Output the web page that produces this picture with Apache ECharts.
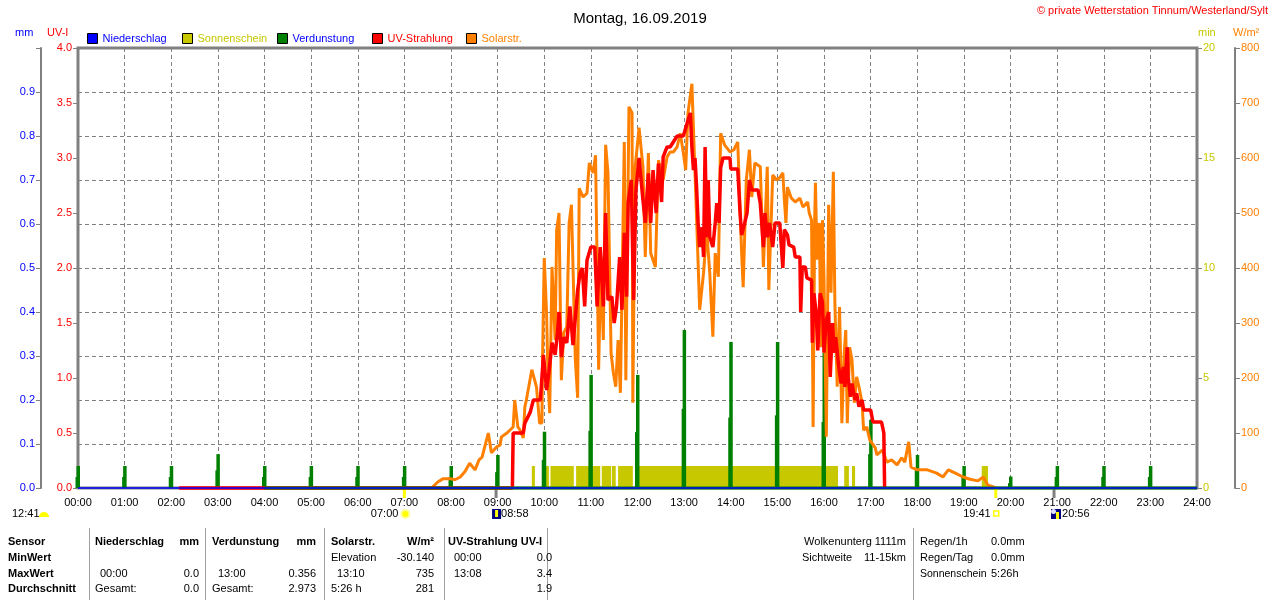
<!DOCTYPE html>
<html>
<head>
<meta charset="utf-8">
<script src="https://cdn.jsdelivr.net/npm/echarts@6/dist/echarts.min.js"></script>
<style>
html, body { margin: 0; padding: 0; background: #fff; }
#chart { width: 1280px; height: 600px; }
</style>
</head>
<body>
<div id="chart"></div>
<script>
var FONT = "Liberation Sans, Arial, sans-serif";

// Zeit in Minuten seit 00:00
var solarData = [
  [455,0],[463,11],[470,17],[479,17],[485,15],[492,20],[498,30],[504,45],[511,33],[516,51],
  [520,56],[528,100],[532,64],[539,75],[543,78],[545,93],[552,100],[554,102],[560,111],[562,160],
  [566,111],[569,105],[573,91],[575,147],[577,160],[584,215],[586,218],[590,184],[594,118],[597,118],
  [598,251],[600,418],[603,318],[605,191],[607,136],[610,402],[614,269],[616,469],[619,500],[622,196],
  [625,282],[629,293],[632,482],[635,515],[640,233],[643,164],[645,545],[650,529],[655,536],[658,591],
  [663,573],[666,605],[670,215],[673,420],[676,269],[679,624],[682,573],[686,245],[689,209],[692,184],
  [695,269],[698,173],[703,629],[705,196],[709,693],[713,682],[714,155],[717,584],[721,640],[722,655],
  [727,584],[730,420],[734,609],[737,427],[743,402],[747,596],[753,560],[758,602],[762,611],[766,611],
  [771,620],[775,645],[779,609],[782,578],[785,682],[790,735],[794,573],[798,409],[800,324],[805,391],
  [809,469],[813,391],[817,275],[820,427],[824,384],[827,645],[832,624],[839,611],[844,615],[849,629],
  [854,427],[856,365],[860,560],[864,615],[867,529],[871,591],[878,584],[882,402],[887,584],[889,360],
  [894,569],[899,560],[903,564],[907,573],[909,524],[911,482],[913,547],[918,527],[923,520],[929,527],
  [933,511],[939,520],[941,500],[944,487],[946,111],[948,487],[949,555],[951,415],[954,482],[956,256],
  [958,487],[960,384],[963,93],[966,515],[969,355],[972,575],[974,336],[977,184],[980,329],[983,118],
  [986,245],[988,287],[990,118],[993,256],[996,233],[999,155],[1002,202],[1005,184],[1009,155],[1011,105],
  [1015,111],[1019,87],[1026,73],[1028,60],[1035,69],[1041,47],[1047,51],[1054,42],[1060,55],[1064,47],
  [1069,84],[1072,38],[1080,33],[1093,33],[1105,27],[1113,20],[1120,33],[1129,27],[1139,20],[1148,16],
  [1158,13],[1165,20],[1171,5],[1178,2],[1181,0]
];

var uvData = [
  [130,0],[559,0],[560,0.5],[573,0.5],[575,0.59],[577,0.6],[582,0.69],[586,0.8],[595,0.8],[599,1.21],
  [603,0.89],[606,1.05],[610,1.32],[614,1.21],[617,1.41],[619,1.6],[622,1.19],[625,1.37],[629,1.32],[633,1.65],
  [637,1.3],[643,1.8],[646,1.95],[649,2.0],[652,1.65],[655,2.07],[660,2.19],[665,2.19],[668,1.65],[672,2.19],
  [676,1.65],[679,2.5],[682,1.71],[687,1.74],[690,1.5],[693,1.65],[697,2.1],[700,1.62],[703,2.32],[706,1.74],
  [708,2.6],[712,2.8],[715,1.71],[718,2.71],[722,3.0],[727,2.62],[730,2.41],[734,2.86],[737,2.41],[740,2.89],
  [744,2.5],[747,2.95],[751,2.6],[753,3.01],[758,3.1],[762,3.1],[771,3.2],[779,3.2],[784,3.32],[788,3.41],
  [790,3.1],[792,2.89],[794,3.0],[796,2.74],[798,2.41],[800,2.19],[803,2.37],[805,2.1],[807,3.1],[809,2.28],
  [811,2.8],[813,2.28],[817,2.19],[820,2.41],[822,2.59],[825,2.41],[827,2.91],[830,3.0],[839,3.0],[840,2.9],
  [849,2.9],[852,2.5],[854,2.3],[858,2.41],[861,2.5],[864,2.8],[867,2.71],[875,2.71],[878,2.59],[882,2.19],
  [884,2.5],[887,2.28],[890,2.41],[894,2.19],[897,2.41],[903,2.41],[905,2.41],[907,2.0],[909,2.35],[913,2.3],
  [915,2.21],[921,2.19],[923,2.1],[929,2.1],[930,1.6],[932,2.01],[936,2.01],[938,1.91],[944,1.89],[945,1.32],
  [947,1.77],[950,1.59],[952,1.25],[955,1.77],[958,1.69],[960,1.23],[963,1.53],[966,1.6],[968,1.01],[971,1.5],
  [973,1.23],[975,1.37],[979,1.1],[982,0.95],[985,1.1],[987,0.92],[990,1.28],[991,1.01],[994,0.83],[996,0.95],
  [1000,0.8],[1002,0.86],[1005,0.74],[1009,0.8],[1011,0.71],[1020,0.71],[1023,0.6],[1034,0.6],[1037,0.5],[1038,0]
];

// Verdunstung je Stunde (mm): Spitze und vorheriger Wert
var verdunstungStunde = [0,1,2,3,4,5,6,7,8,9,10,11,12,13,14,15,16,17,18,19,20,21,22,23];
var verdunstungMax = [0.05,0.05,0.05,0.077,0.05,0.05,0.05,0.05,0.05,0.075,0.128,0.257,0.257,0.359,0.332,0.332,0.307,0.155,0.075,0.05,0.026,0.05,0.05,0.05];
var verdunstungVor = [0.025,0.025,0.025,0.04,0.025,0.025,0.025,0.025,0.025,0.036,0.064,0.13,0.127,0.18,0.16,0.165,0.15,0.077,0.04,0.026,0.011,0.025,0.025,0.025];
var verdunstungLinie = [[240,0],[1440,0]];

// Sonnenschein (min je Minute): Intervalle [von, bis, Wert]
var sonnenschein = [
  [584,588,1],[597,606,1],[608,638,1],[641,672,1],[674,686,1],[687,692,1],[695,714,1],
  [717,978,1],[986,992,1],[996,1000,1],[1163,1171,1]
];

var niederschlagStunde = [0,1,2,3,4,5,6,7,8,9,10,11,12,13,14,15,16,17,18,19,20,21,22,23,24];
var niederschlag = [0,0,0,0,0,0,0,0,0,0,0,0,0,0,0,0,0,0,0,0,0,0,0,0,0];

// Astro-Zeiten (Minuten)
var sonnenAuf = 420, sonnenUnter = 1181, mondAuf = 538, mondUnter = 1256;

function pad(n) { return (n < 10 ? "0" : "") + n; }
function hm(m) { return pad(Math.floor(m / 60)) + ":" + pad(m % 60); }

var dom = document.getElementById("chart");
var myChart = echarts.init(dom, null, { renderer: "canvas" });

var legendItems = [
  { name: "Niederschlag", left: 87, color: "#0000ff" },
  { name: "Sonnenschein", left: 182, color: "#c8c800" },
  { name: "Verdunstung", left: 277, color: "#0000ff" },
  { name: "UV-Strahlung", left: 372, color: "#ff0000" },
  { name: "Solarstr.", left: 466, color: "#ff8000" }
];

var option = {
  animation: false,
  backgroundColor: "#fff",
  textStyle: { fontFamily: FONT },
  title: {
    text: "Montag, 16.09.2019",
    left: "center",
    top: 6,
    textStyle: { fontSize: 15, fontWeight: "normal", color: "#000", fontFamily: FONT }
  },
  legend: legendItems.map(function (it) {
    return {
      data: [{ name: it.name, textStyle: { color: it.color } }],
      left: it.left,
      top: 33,
      padding: 0,
      icon: "rect",
      itemWidth: 10,
      itemHeight: 10,
      selectedMode: false,
      itemStyle: { borderColor: "#000", borderWidth: 1 },
      textStyle: { fontSize: 11, fontFamily: FONT }
    };
  }),
  grid: {
    left: 78, right: 83, top: 48, bottom: 112,
    show: true, borderColor: "#808080", borderWidth: 3
  },
  xAxis: {
    type: "value",
    min: 0, max: 1440, interval: 60,
    axisLine: { show: false },
    axisTick: { show: false },
    axisLabel: {
      color: "#000", fontSize: 11, fontFamily: FONT, margin: 9,
      formatter: function (v) { return pad(v / 60) + ":00"; }
    },
    splitLine: { show: true, lineStyle: { color: "#808080", type: [4, 3], width: 1 } }
  },
  yAxis: [
    {
      type: "value", position: "left", min: 0, max: 4, interval: 0.5,
      axisLine: { show: false },
      axisTick: { show: true, length: 5, lineStyle: { color: "#808080" } },
      axisLabel: { color: "#ff0000", fontSize: 11, fontFamily: FONT, margin: 6,
        formatter: function (v) { return v.toFixed(1); } },
      splitLine: { show: false }
    },
    {
      type: "value", position: "left", offset: 37, min: 0, max: 1, interval: 0.1,
      axisLine: { show: true, lineStyle: { color: "#808080", width: 2 } },
      axisTick: { show: true, length: 5, lineStyle: { color: "#808080" } },
      axisLabel: { color: "#0000ff", fontSize: 11, fontFamily: FONT, margin: 6,
        formatter: function (v) { return v >= 0.999 ? "" : v.toFixed(1); } },
      splitLine: { show: true, lineStyle: { color: "#808080", type: [4, 3], width: 1 } }
    },
    {
      type: "value", position: "right", min: 0, max: 20, interval: 5,
      axisLine: { show: false },
      axisTick: { show: true, length: 5, lineStyle: { color: "#808080" } },
      axisLabel: { color: "#c8c800", fontSize: 11, fontFamily: FONT, margin: 6 },
      splitLine: { show: false }
    },
    {
      type: "value", position: "right", offset: 38, min: 0, max: 800, interval: 100,
      axisLine: { show: true, lineStyle: { color: "#808080", width: 2 } },
      axisTick: { show: true, length: 5, lineStyle: { color: "#808080" } },
      axisLabel: { color: "#ff8000", fontSize: 11, fontFamily: FONT, margin: 6 },
      splitLine: { show: false }
    }
  ],
  series: [
    {
      name: "Sonnenschein",
      type: "custom",
      xAxisIndex: 0, yAxisIndex: 2,
      itemStyle: { color: "#c8c800" },
      encode: { x: [0, 1], y: 2 },
      data: sonnenschein,
      renderItem: function (params, api) {
        var s = api.coord([api.value(0), api.value(2)]);
        var e = api.coord([api.value(1), 0]);
        return {
          type: "rect",
          shape: { x: s[0], y: s[1], width: e[0] - s[0], height: e[1] - s[1] },
          style: { fill: "#c8c800" }
        };
      }
    },
    {
      name: "Solarstr.",
      type: "line",
      yAxisIndex: 3,
      data: solarData,
      showSymbol: false,
      color: "#ff8000",
      lineStyle: { color: "#ff8000", width: 3 }
    },
    {
      name: "UV-Strahlung",
      type: "line",
      yAxisIndex: 0,
      data: uvData,
      showSymbol: false,
      clip: false,
      color: "#ff0000",
      lineStyle: { color: "#ff0000", width: 3.5 }
    },
    {
      name: "Verdunstung",
      type: "custom",
      xAxisIndex: 0, yAxisIndex: 1,
      itemStyle: { color: "#008000" },
      encode: { x: 0, y: [1, 2] },
      data: verdunstungStunde.map(function (h, i) {
        return [h * 60, verdunstungMax[i], verdunstungVor[i]];
      }),
      renderItem: function (params, api) {
        var m = api.value(0);
        var top = api.coord([m, api.value(1)]);
        var low = api.coord([m, api.value(2)]);
        var base = api.coord([m, 0]);
        return {
          type: "group",
          children: [
            { type: "rect", shape: { x: top[0] - 2.5, y: low[1], width: 3.5, height: base[1] - low[1] },
              style: { fill: "#008000" } },
            { type: "rect", shape: { x: top[0] - 1.5, y: top[1], width: 3.5, height: base[1] - top[1] },
              style: { fill: "#008000" } }
          ]
        };
      }
    },
    {
      type: "line",
      yAxisIndex: 1,
      data: verdunstungLinie,
      showSymbol: false,
      clip: false,
      silent: true,
      lineStyle: { color: "#008000", width: 3 }
    },
    {
      name: "Niederschlag",
      type: "line",
      yAxisIndex: 1,
      data: niederschlagStunde.map(function (h, i) { return [h * 60, niederschlag[i]]; }),
      showSymbol: false,
      clip: false,
      color: "#0000ff",
      lineStyle: { color: "#0000ff", width: 1.5 }
    }
  ]
};

myChart.setOption(option);

// Texte und Markierungen
function txt(text, x, y, o) {
  o = o || {};
  return {
    type: "text", x: x, y: y, silent: true,
    style: {
      text: text,
      fill: o.color || "#000",
      font: (o.bold ? "bold " : "") + (o.size || 11) + "px " + FONT,
      textAlign: o.align || "left",
      textVerticalAlign: "middle"
    }
  };
}
function vline(x, y1, y2, color, w) {
  return { type: "line", silent: true, shape: { x1: x, y1: y1, x2: x, y2: y2 },
    style: { stroke: color, lineWidth: w || 1 } };
}

var px = function (m) { return myChart.convertToPixel({ xAxisIndex: 0 }, m); };
var xsA = px(sonnenAuf), xsU = px(sonnenUnter), xmA = px(mondAuf), xmU = px(mondUnter);

var g = [];
g.push(txt("\u00a9 private Wetterstation Tinnum/Westerland/Sylt", 1268, 11, { color: "#ff0000", align: "right" }));
g.push(txt("mm", 15, 33, { color: "#0000ff" }));
g.push(txt("UV-I", 47, 33, { color: "#ff0000" }));
g.push(txt("min", 1198, 33, { color: "#c8c800" }));
g.push(txt("W/m\u00b2", 1233, 33, { color: "#ff8000" }));

// Astro-Marker
g.push(vline(xsA, 489, 498, "#ffff00", 3));
g.push(vline(xsU, 489, 498, "#ffff00", 3));
g.push(vline(xmA, 489, 498, "#808080", 3));
g.push(vline(xmU, 489, 498, "#808080", 3));

g.push(txt(hm(sonnenUnter - sonnenAuf), 12, 514));
g.push({ type: "sector", silent: true, shape: { cx: 44, cy: 517, r0: 0, r: 5, startAngle: Math.PI, endAngle: 2 * Math.PI },
  style: { fill: "#ffff00" } });

g.push(txt(hm(sonnenAuf), xsA - 6, 514, { align: "right" }));
g.push({ type: "circle", silent: true, shape: { cx: xsA + 1, cy: 514, r: 4 },
  style: { fill: "#ffff00", stroke: "#ffff99", lineWidth: 2 } });

g.push({ type: "rect", silent: true, shape: { x: xmA - 4, y: 509, width: 9, height: 10 }, style: { fill: "#000080" } });
g.push({ type: "rect", silent: true, shape: { x: xmA - 1, y: 510, width: 3, height: 7 }, style: { fill: "#ffff00" } });
g.push(txt(hm(mondAuf), xmA + 5, 514));

g.push(txt(hm(sonnenUnter), xsU - 5, 514, { align: "right" }));
g.push({ type: "rect", silent: true, shape: { x: xsU - 2, y: 511, width: 5, height: 5 },
  style: { fill: "#fff", stroke: "#ffff00", lineWidth: 1.5 } });

g.push({ type: "rect", silent: true, shape: { x: xmU - 3, y: 509, width: 10, height: 10 }, style: { fill: "#000080" } });
g.push({ type: "circle", silent: true, shape: { cx: xmU - 0.5, cy: 511.5, r: 2.5 }, style: { fill: "#e0e0ff" } });
g.push({ type: "rect", silent: true, shape: { x: xmU + 2, y: 512, width: 3, height: 7 }, style: { fill: "#ffff00" } });
g.push(txt(hm(mondUnter), xmU + 8, 514));

// Tabelle
var r1 = 542, r2 = 558, r3 = 574, r4 = 589;
[89, 205, 324, 444, 547, 913].forEach(function (x) { g.push(vline(x + 0.5, 528, 600, "#a0a0a0", 1)); });

g.push(txt("Sensor", 8, r1, { bold: true }));
g.push(txt("MinWert", 8, r2, { bold: true }));
g.push(txt("MaxWert", 8, r3, { bold: true }));
g.push(txt("Durchschnitt", 8, r4, { bold: true }));

g.push(txt("Niederschlag", 95, r1, { bold: true }));
g.push(txt("mm", 199, r1, { bold: true, align: "right" }));
g.push(txt("00:00", 100, r3));
g.push(txt("0.0", 199, r3, { align: "right" }));
g.push(txt("Gesamt:", 95, r4));
g.push(txt("0.0", 199, r4, { align: "right" }));

g.push(txt("Verdunstung", 212, r1, { bold: true }));
g.push(txt("mm", 316, r1, { bold: true, align: "right" }));
g.push(txt("13:00", 218, r3));
g.push(txt("0.356", 316, r3, { align: "right" }));
g.push(txt("Gesamt:", 212, r4));
g.push(txt("2.973", 316, r4, { align: "right" }));

g.push(txt("Solarstr.", 331, r1, { bold: true }));
g.push(txt("W/m\u00b2", 434, r1, { bold: true, align: "right" }));
g.push(txt("Elevation", 331, r2));
g.push(txt("-30.140", 434, r2, { align: "right" }));
g.push(txt("13:10", 337, r3));
g.push(txt("735", 434, r3, { align: "right" }));
g.push(txt("5:26 h", 331, r4));
g.push(txt("281", 434, r4, { align: "right" }));

g.push(txt("UV-Strahlung UV-I", 448, r1, { bold: true }));
g.push(txt("00:00", 454, r2));
g.push(txt("0.0", 552, r2, { align: "right" }));
g.push(txt("13:08", 454, r3));
g.push(txt("3.4", 552, r3, { align: "right" }));
g.push(txt("1.9", 552, r4, { align: "right" }));

g.push(txt("Wolkenunterg 1111m", 906, r1, { align: "right" }));
g.push(txt("Sichtweite", 802, r2));
g.push(txt("11-15km", 906, r2, { align: "right" }));
g.push(txt("Regen/1h", 920, r1));
g.push(txt("0.0mm", 991, r1));
g.push(txt("Regen/Tag", 920, r2));
g.push(txt("0.0mm", 991, r2));
g.push(txt("Sonnenschein", 920, r3, { size: 10.5 }));
g.push(txt("5:26h", 991, r3));

myChart.setOption({ graphic: g });

window.addEventListener("resize", myChart.resize);
</script>
</body>
</html>
